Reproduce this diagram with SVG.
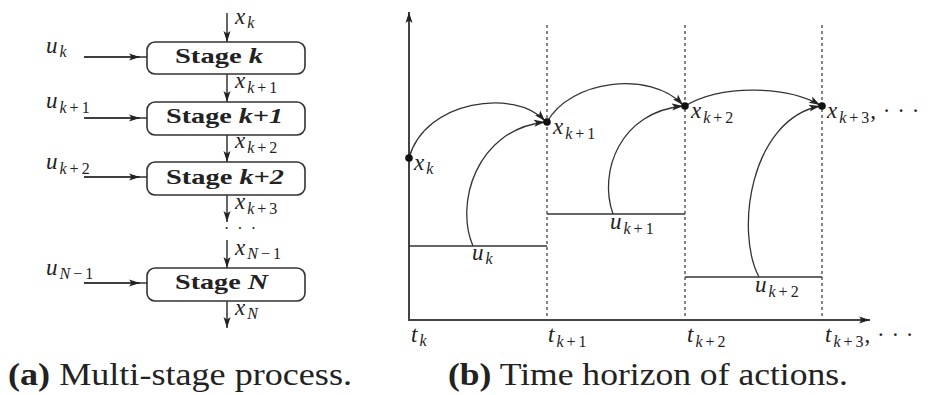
<svg xmlns="http://www.w3.org/2000/svg" width="932" height="395" viewBox="0 0 932 395">
<style>
.m{font-family:"Liberation Serif","Times New Roman",Times,serif;font-style:italic;font-size:23px;fill:#222}
.sb{font-size:16px;letter-spacing:3px}
.up{font-style:normal}
.el{font-style:normal;letter-spacing:0.5px}
.st{font-family:"Liberation Serif","Times New Roman",Times,serif;font-weight:bold;font-size:21px;fill:#222}
.bi{font-style:italic}
.cap{font-family:"Liberation Serif","Times New Roman",Times,serif;font-size:31px;fill:#222}
.box{fill:#fff;stroke:#333;stroke-width:1.6}
.ln{fill:none;stroke:#333;stroke-width:1.5}
.ax{fill:none;stroke:#444;stroke-width:2}
.cv{fill:none;stroke:#333;stroke-width:1.3}
.dash{fill:none;stroke:#444;stroke-width:1.3;stroke-dasharray:3 3}
</style>
<defs>
<marker id="ah" markerUnits="userSpaceOnUse" markerWidth="12" markerHeight="8" refX="11" refY="4" orient="auto">
<path d="M0,0.5 L11,4 L0,7.5 L2.5,4 z" fill="#222"/>
</marker>
</defs>

<g id="connectors">
<line class="ln" x1="227" y1="13" x2="227" y2="42" marker-end="url(#ah)"/>
<line class="ln" x1="227" y1="74" x2="227" y2="102" marker-end="url(#ah)"/>
<line class="ln" x1="227" y1="135" x2="227" y2="162" marker-end="url(#ah)"/>
<line class="ln" x1="227" y1="195" x2="227" y2="222" marker-end="url(#ah)"/>
<line class="ln" x1="227" y1="240" x2="227" y2="268" marker-end="url(#ah)"/>
<line class="ln" x1="227" y1="301" x2="227" y2="328" marker-end="url(#ah)"/>
<line class="ln" x1="84" y1="57" x2="147" y2="57"/>
<line class="ln" x1="84" y1="57" x2="140" y2="57" marker-end="url(#ah)"/>
<line class="ln" x1="84" y1="118" x2="147" y2="118"/>
<line class="ln" x1="84" y1="118" x2="140" y2="118" marker-end="url(#ah)"/>
<line class="ln" x1="84" y1="177" x2="147" y2="177"/>
<line class="ln" x1="84" y1="177" x2="140" y2="177" marker-end="url(#ah)"/>
<line class="ln" x1="84" y1="283" x2="147" y2="283"/>
<line class="ln" x1="84" y1="283" x2="140" y2="283" marker-end="url(#ah)"/>
</g>

<g id="stage-k"><rect class="box" x="147" y="42" width="158" height="32" rx="8"/><text class="st" x="175" y="63" textLength="88" lengthAdjust="spacingAndGlyphs">Stage <tspan class="bi">k</tspan></text></g>
<g id="stage-k1"><rect class="box" x="147" y="102" width="158" height="33" rx="8"/><text class="st" x="166" y="123" textLength="117" lengthAdjust="spacingAndGlyphs">Stage <tspan class="bi">k+1</tspan></text></g>
<g id="stage-k2"><rect class="box" x="147" y="162" width="158" height="33" rx="8"/><text class="st" x="166" y="184" textLength="118" lengthAdjust="spacingAndGlyphs">Stage <tspan class="bi">k+2</tspan></text></g>
<g id="stage-N"><rect class="box" x="147" y="268" width="158" height="33" rx="8"/><text class="st" x="175" y="289" textLength="93" lengthAdjust="spacingAndGlyphs">Stage <tspan class="bi">N</tspan></text></g>

<g id="left-labels">
<text class="m" x="235" y="24">x<tspan class="sb" dx="2" dy="4">k</tspan></text>
<text class="m" x="235" y="88">x<tspan class="sb" dx="2" dy="5">k<tspan class="up">+1</tspan></tspan></text>
<text class="m" x="235" y="148">x<tspan class="sb" dx="2" dy="5">k<tspan class="up">+2</tspan></tspan></text>
<text class="m" x="235" y="209">x<tspan class="sb" dx="2" dy="5">k<tspan class="up">+3</tspan></tspan></text>
<text class="m" x="224" y="234" style="font-style:normal;font-size:16px;letter-spacing:2px">· · ·</text>
<text class="m" x="235" y="255">x<tspan class="sb" dx="2" dy="4">N<tspan class="up">−1</tspan></tspan></text>
<text class="m" x="235" y="315">x<tspan class="sb" dx="2" dy="4">N</tspan></text>
<text class="m" x="46" y="53">u<tspan class="sb" dx="2" dy="4">k</tspan></text>
<text class="m" x="46" y="108">u<tspan class="sb" dx="2" dy="5">k<tspan class="up">+1</tspan></tspan></text>
<text class="m" x="46" y="169">u<tspan class="sb" dx="2" dy="5">k<tspan class="up">+2</tspan></tspan></text>
<text class="m" x="46" y="275">u<tspan class="sb" dx="2" dy="4">N<tspan class="up">−1</tspan></tspan></text>
</g>

<g id="axes">
<line class="ax" x1="409" y1="320" x2="409" y2="12" marker-end="url(#ah)"/>
<line class="ax" x1="408" y1="320" x2="870" y2="320" marker-end="url(#ah)"/>
<line class="dash" x1="547" y1="25" x2="547" y2="320"/>
<line class="dash" x1="685" y1="25" x2="685" y2="320"/>
<line class="dash" x1="822" y1="25" x2="822" y2="320"/>
</g>

<g id="controls">
<line class="ln" x1="409" y1="246" x2="547" y2="246"/>
<line class="ln" x1="547" y1="214" x2="685" y2="214"/>
<line class="ln" x1="685" y1="277" x2="822" y2="277"/>
</g>

<g id="transitions">
<path class="cv" d="M409,158 C425,100 515,88 545,121" marker-end="url(#ah)"/>
<path class="cv" d="M547,122 C570,80 650,70 683,105" marker-end="url(#ah)"/>
<path class="cv" d="M685,106 C720,85 785,85 820,105" marker-end="url(#ah)"/>
<path class="cv" d="M473,246 C455,205 475,130 545,122" marker-end="url(#ah)"/>
<path class="cv" d="M613,214 C598,172 620,112 683,106" marker-end="url(#ah)"/>
<path class="cv" d="M759,277 C735,232 750,120 820,106" marker-end="url(#ah)"/>
</g>

<g id="states">
<circle cx="409" cy="158" r="3.8" fill="#111"/>
<circle cx="547" cy="122" r="3.8" fill="#111"/>
<circle cx="685" cy="106" r="3.8" fill="#111"/>
<circle cx="822" cy="106" r="3.8" fill="#111"/>
</g>

<g id="right-labels">
<text class="m" x="414" y="170">x<tspan class="sb" dx="2" dy="4">k</tspan></text>
<text class="m" x="553" y="134">x<tspan class="sb" dx="2" dy="5">k<tspan class="up">+1</tspan></tspan></text>
<text class="m" x="691" y="118">x<tspan class="sb" dx="2" dy="5">k<tspan class="up">+2</tspan></tspan></text>
<text class="m" x="827" y="118">x<tspan class="sb" dx="2" dy="5">k<tspan class="up">+3</tspan></tspan><tspan class="el" dx="-2" dy="-5">, · · ·</tspan></text>
<text class="m" x="472" y="260">u<tspan class="sb" dx="2" dy="4">k</tspan></text>
<text class="m" x="610" y="229">u<tspan class="sb" dx="2" dy="5">k<tspan class="up">+1</tspan></tspan></text>
<text class="m" x="755" y="292">u<tspan class="sb" dx="2" dy="5">k<tspan class="up">+2</tspan></tspan></text>
<text class="m" x="411" y="342">t<tspan class="sb" dx="2" dy="4">k</tspan></text>
<text class="m" x="548" y="342">t<tspan class="sb" dx="2" dy="5">k<tspan class="up">+1</tspan></tspan></text>
<text class="m" x="687" y="342">t<tspan class="sb" dx="2" dy="5">k<tspan class="up">+2</tspan></tspan></text>
<text class="m" x="825" y="342">t<tspan class="sb" dx="2" dy="5">k<tspan class="up">+3</tspan></tspan><tspan class="el" dx="-2" dy="-5">, · · ·</tspan></text>
</g>

<g id="captions">
<text class="cap" x="8" y="385" textLength="344" lengthAdjust="spacingAndGlyphs"><tspan font-weight="bold">(a)</tspan> Multi-stage process.</text>
<text class="cap" x="448" y="385" textLength="400" lengthAdjust="spacingAndGlyphs"><tspan font-weight="bold">(b)</tspan> Time horizon of actions.</text>
</g>
</svg>
